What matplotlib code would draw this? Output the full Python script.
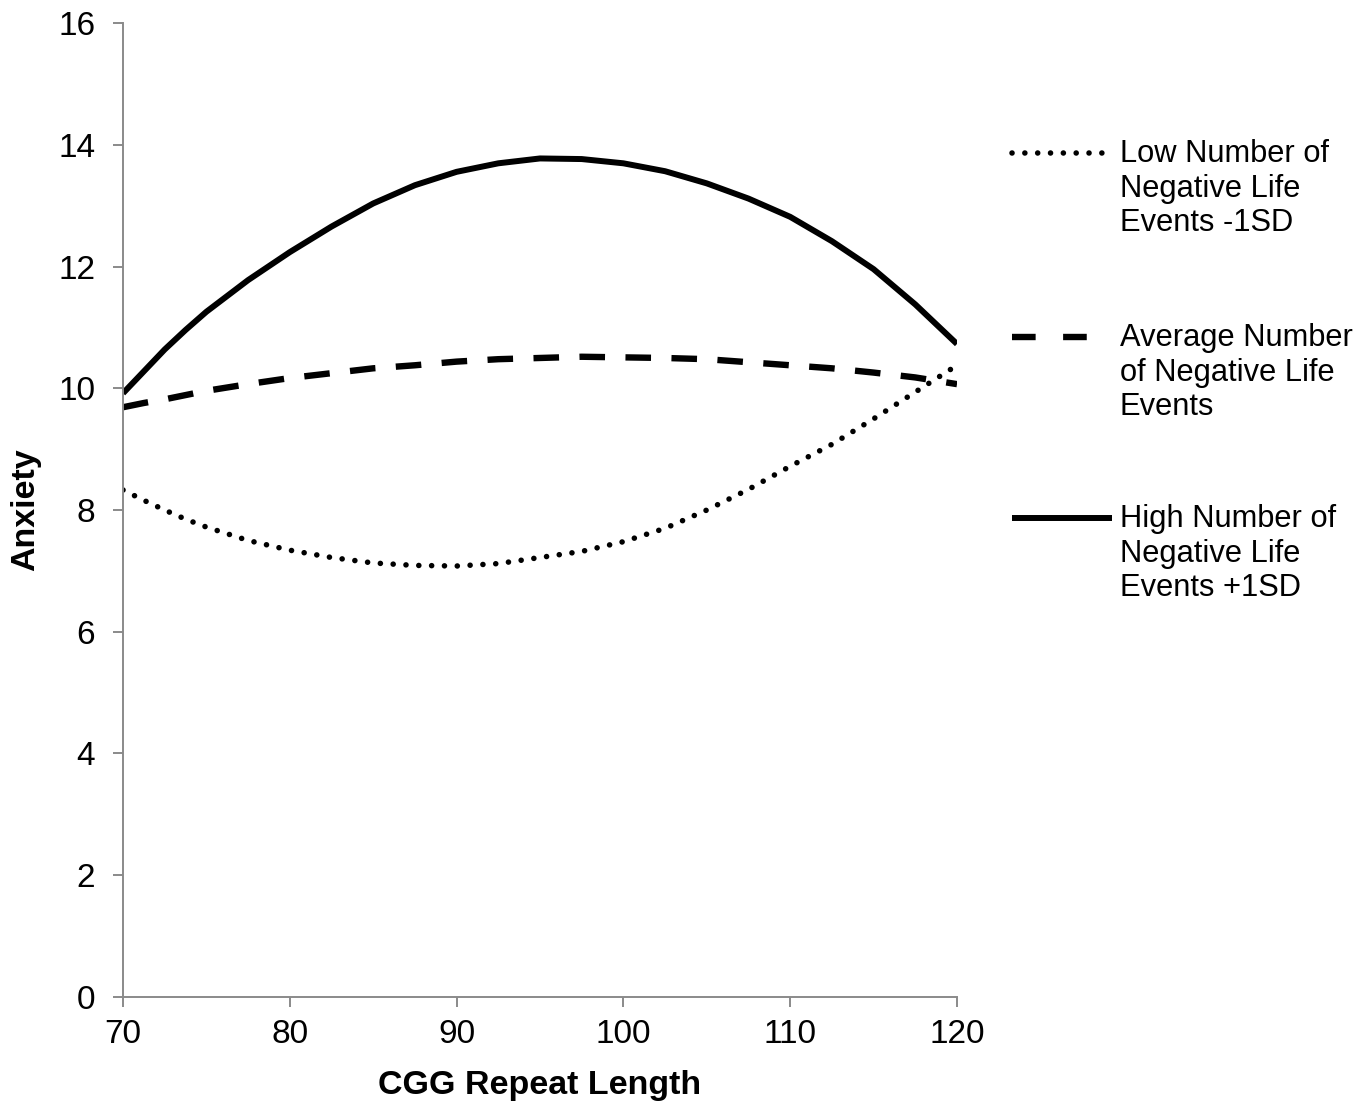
import matplotlib
matplotlib.use("Agg")
import matplotlib.pyplot as plt
from matplotlib.lines import Line2D

plt.rcParams['font.family'] = ['Liberation Sans', 'DejaVu Sans']

# ---- data ----
cgg = [70, 71.25, 72.5, 73.75, 75, 77.5, 80, 82.5, 85, 87.5, 90, 92.5, 95,
       97.5, 100, 102.5, 105, 107.5, 110, 112.5, 115, 117.5, 120]
low_events = [8.33, 8.16, 8.00, 7.85, 7.72, 7.50, 7.34, 7.22, 7.13, 7.09, 7.08,
              7.12, 7.22, 7.32, 7.48, 7.70, 8.00, 8.34, 8.72, 9.08, 9.50,
              9.94, 10.38]
avg_events = [9.69, 9.76, 9.82, 9.89, 9.96, 10.07, 10.17, 10.25, 10.33, 10.38,
              10.44, 10.48, 10.50, 10.52, 10.51, 10.50, 10.48, 10.43, 10.38,
              10.33, 10.26, 10.18, 10.07]
high_events = [9.92, 10.28, 10.64, 10.96, 11.26, 11.78, 12.24, 12.66, 13.04,
               13.34, 13.56, 13.70, 13.78, 13.77, 13.70, 13.57, 13.37, 13.12,
               12.82, 12.42, 11.96, 11.38, 10.73]
series_labels = ["Low Number of\nNegative Life\nEvents -1SD",
                 "Average Number\nof Negative Life\nEvents",
                 "High Number of\nNegative Life\nEvents +1SD"]
x_ticks = [70, 80, 90, 100, 110, 120]
y_ticks = [0, 2, 4, 6, 8, 10, 12, 14, 16]

W, H = 1371, 1108
fig = plt.figure(figsize=(W / 100, H / 100), dpi=100)
ax = fig.add_axes([123 / W, 1 - 996.7 / H, (957 - 123) / W, (996.7 - 23.4) / H])

dot_style = dict(color='black', lw=4.0, linestyle=(0, (0.01, 2.3)),
                 dash_capstyle='round')
dash_style = dict(color='black', lw=4.6, linestyle=(0, (4.0, 3.2)),
                  dash_capstyle='butt', dash_joinstyle='round')
solid_style = dict(color='black', lw=4.3, solid_capstyle='butt',
                   solid_joinstyle='round')

ax.plot(cgg, low_events, **dot_style)
ax.plot(cgg, avg_events, **dash_style)
ax.plot(cgg, high_events, **solid_style)

ax.set_xlim(70, 120)
ax.set_ylim(0, 16)
ax.set_xticks(x_ticks)
ax.set_yticks(y_ticks)

gray = '#8a8a8a'
for s in ['top', 'right']:
    ax.spines[s].set_visible(False)
for s in ['left', 'bottom']:
    ax.spines[s].set_color(gray)
    ax.spines[s].set_linewidth(1.4)
ax.tick_params(axis='both', direction='out', length=7, width=1.4, color=gray,
               labelsize=24, labelcolor='black')
ax.tick_params(axis='y', pad=13)
ax.tick_params(axis='x', pad=9)

ax.set_ylabel("Anxiety", fontsize=24.5, fontweight='bold')
ax.set_xlabel("CGG Repeat Length", fontsize=24.5, fontweight='bold')
ax.yaxis.set_label_coords((41 - 123) / 834, 0.5)
ax.xaxis.set_label_coords(0.5, (996.7 - 1070) / 973.3)

# ---- legend (manual layout to keep handle on the first text line) ----
legend_rows = [(153, dict(color='black', lw=4.0, linestyle=(0, (0.01, 2.3)),
                          dash_capstyle='round'), 1105),
               (337, dict(color='black', lw=4.6, linestyle=(0, (3.7, 4.3)),
                          dash_capstyle='butt'), 1090),
               (518, dict(color='black', lw=4.3, solid_capstyle='butt'), 1112)]
for (yp, style, xend), lab in zip(legend_rows, series_labels):
    fig.add_artist(Line2D([1012 / W, xend / W], [1 - yp / H, 1 - yp / H],
                          transform=fig.transFigure, **style))
    fig.text(1120 / W, 1 - (yp - 14) / H, lab, fontsize=22.2, ha='left',
             va='top', linespacing=1.2)

fig.savefig("out.png", dpi=100)
